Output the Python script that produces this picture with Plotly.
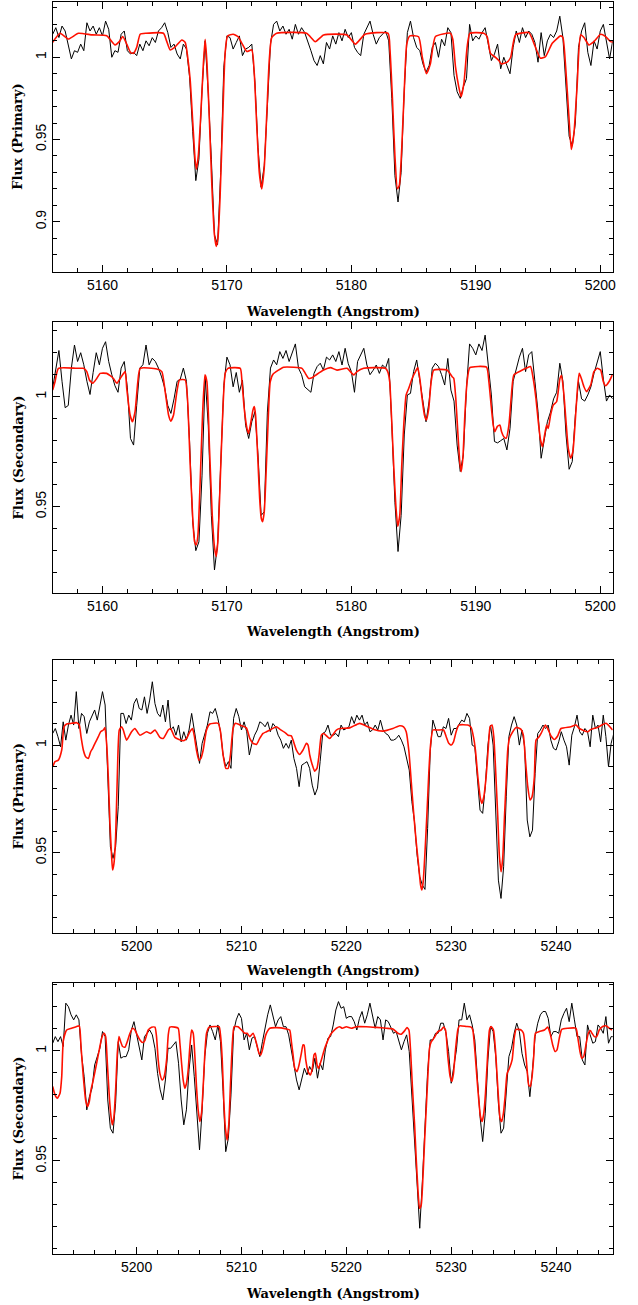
import numpy as np
import plotly.graph_objects as go

# ---------------- data ----------------
STEP = 0.25
P12_START = 5156.0
P34_START = 5192.0

P1_OBS = [
1.014,1.018,1.012,1.019,1.016,1.008,0.999,1.004,1.003,1.008,1.004,1.021,1.016,1.019,1.014,1.018,
1.013,1.022,1.017,1.000,1.004,1.003,1.014,1.016,1.004,1.002,1.003,1.001,1.008,1.004,1.010,1.007,
1.012,1.009,1.016,1.018,1.021,1.015,1.006,1.008,1.002,0.999,1.008,1.005,0.988,0.955,0.925,0.938,
0.980,1.010,0.978,0.938,0.892,0.886,0.930,0.994,1.013,1.012,1.005,1.009,1.013,1.001,1.005,1.006,
1.008,0.985,0.945,0.921,0.934,0.970,1.008,1.020,1.022,1.016,1.019,1.014,1.017,1.011,1.020,1.014,
1.018,1.015,1.010,1.004,0.998,0.995,1.001,0.996,1.009,1.005,1.013,1.008,1.015,1.010,1.017,1.012,
1.015,1.006,1.003,1.001,1.014,1.018,1.022,1.014,1.008,1.012,1.014,1.016,1.010,0.975,0.928,0.912,
0.930,0.980,1.015,1.022,1.012,1.006,1.004,0.996,0.991,0.995,1.006,1.009,1.000,1.011,1.007,1.018,
1.015,0.989,0.979,0.975,0.982,0.987,1.020,1.010,1.013,1.011,1.015,1.018,1.008,0.998,1.002,1.008,
0.993,1.000,0.995,0.990,1.006,1.016,1.009,1.018,1.012,1.016,1.014,1.009,0.997,1.015,1.001,1.010,
1.014,1.012,1.016,1.025,1.012,0.978,0.952,0.946,0.960,1.006,1.016,1.021,1.003,0.995,1.010,1.005,
1.016,1.020,1.010,0.999,1.010]

P2_OBS = [
1.004,1.013,1.021,1.007,0.995,0.996,1.013,1.0235,1.016,1.020,1.0145,1.007,1.001,1.011,1.020,1.0145,
1.022,1.025,1.016,1.010,1.005,1.002,1.013,1.016,1.004,0.981,0.978,0.996,1.013,1.0145,1.0235,1.0145,
1.0175,1.016,1.013,1.009,1.004,0.996,0.9924,0.999,1.007,1.008,1.013,1.007,0.9795,0.943,0.930,0.934,
0.964,1.009,0.987,0.946,0.9212,0.933,0.9735,1.005,1.018,1.0145,1.0045,1.011,1.002,1.0075,0.987,0.981,
0.9886,0.9932,0.9735,0.946,0.9477,0.993,1.013,1.0167,1.0145,1.0205,1.0174,1.021,1.016,1.0205,1.024,1.013,
1.010,1.0045,1.003,1.002,1.0106,1.0137,1.0152,1.0121,1.018,1.0167,1.019,1.016,1.0205,1.0144,1.022,1.015,
1.0114,1.002,1.016,1.019,1.022,1.0144,1.010,1.012,1.0144,1.0106,1.0144,1.013,1.0174,0.987,0.952,0.9296,
0.946,0.9826,1.0008,1.0015,1.0114,1.0167,1.007,0.996,0.9886,0.998,1.013,1.0152,1.0137,1.010,1.0053,1.0174,
1.003,0.998,0.978,0.966,0.9735,1.0038,1.024,1.022,1.019,1.024,1.021,1.028,1.013,1.0008,0.9796,0.979,
0.980,0.981,0.9758,0.9856,1.007,1.013,1.018,1.022,1.0114,1.019,1.0205,1.007,0.9932,0.972,0.9796,0.9886,
0.993,0.999,1.002,1.0152,1.007,0.9826,0.967,0.9705,0.9917,1.007,0.999,0.998,1.0008,1.0045,1.0106,1.016,
1.0205,1.008,0.998,1.0008,0.999]

P3_OBS = [
1.0054,1.0077,1.0039,0.9992,1.0108,1.0023,1.0093,1.0139,1.0093,1.0248,1.0077,1.0147,1.0132,1.0054,1.0108,1.0132,
1.0163,1.0116,1.0193,1.0248,1.0186,0.982,0.9528,0.9474,0.9528,0.9714,1.0147,1.0147,1.010,1.0139,1.0116,1.0193,
1.0217,1.017,1.0163,1.0224,1.0147,1.0209,1.0294,1.0193,1.0147,1.0132,1.0186,1.0108,1.0209,1.007,1.0085,1.0046,
1.0093,1.0015,1.0062,1.0023,1.007,1.0147,1.0062,0.9977,0.9915,1.0008,1.0046,1.0093,1.0155,1.0147,1.017,1.0124,
1.0062,0.9954,0.990,0.9923,0.9892,1.0124,1.017,1.0132,1.007,1.0108,1.0062,0.9954,1.0008,1.0046,1.007,1.0108,
1.010,1.0085,1.0108,1.0062,1.010,1.0085,1.0046,1.0023,0.9985,1.0008,0.9985,1.0023,0.9938,0.9892,0.9807,0.9907,
0.9915,0.9923,0.9892,0.9814,0.9768,0.980,0.9923,1.0054,1.0062,1.0093,1.0046,1.0046,1.0054,1.0039,1.0093,1.007,
1.0077,1.0085,1.0132,1.010,1.0139,1.0116,1.0139,1.0093,1.0108,1.0062,1.007,1.0093,1.007,1.0116,1.007,1.0054,
1.0046,1.0023,1.0023,1.003,1.0046,1.0023,0.9992,0.9938,0.9884,0.9737,0.9644,0.9489,0.9389,0.9350,0.9330,0.9613,
0.9969,1.0116,1.0077,1.0039,1.0039,1.0085,1.0077,1.0124,1.0046,1.0077,1.0077,1.010,1.0116,1.0108,1.0147,1.0124,
1.0,0.9992,0.9837,0.9698,0.9683,0.9806,1.0,1.0093,1.0,0.9714,0.9373,0.9288,0.9435,0.976,1.0039,1.0093,
1.0132,1.0093,1.0,1.007,0.9992,0.9652,0.9574,0.9605,0.9868,1.0054,1.007,1.0093,1.0077,1.0093,1.0023,0.9985,
0.9977,1.0015,1.0062,1.0023,0.9992,0.9907,1.0046,1.0085,1.0139,1.0062,1.0046,1.0077,1.0062,0.9992,1.0139,1.0077,
1.0093,1.0015,1.0139,1.0039,0.990,1.0008,1.0054]

P4_OBS = [
1.0035,1.0065,1.0042,1.0065,1.002,1.0217,1.0201,1.0164,1.0141,1.0164,1.0141,0.9982,0.9883,0.9732,0.9792,0.983,
0.9936,0.9974,1.0012,1.0088,1.0065,0.9777,0.9648,0.9626,0.9762,1.0042,0.9967,0.9974,0.9974,1.0005,1.0095,1.0133,
1.0073,1.0012,0.9959,1.0065,1.008,1.0095,1.0073,1.0012,0.9898,0.9823,0.9777,0.9868,1.0012,1.0012,1.0027,1.0042,
0.9944,0.9777,0.9664,0.9732,0.9914,1.0027,0.9883,0.9717,0.955,0.9732,0.9974,1.008,1.0118,1.0088,1.005,1.0118,
1.0042,0.9815,0.9542,0.9603,0.980,1.0088,1.0141,1.0171,1.0148,1.005,1.008,1.0005,1.0058,1.0065,1.002,0.9974,
1.0042,1.011,1.0164,1.0209,1.0156,1.011,1.0141,1.0156,1.011,1.011,1.0073,1.0005,0.9936,0.9868,0.9823,0.9876,
0.9921,0.9891,0.9929,0.9906,0.9967,0.9876,0.9944,0.9914,1.0005,1.0058,1.0065,1.0118,1.0186,1.0224,1.0194,1.0201,
1.0148,1.0156,1.0156,1.0133,1.0095,1.0148,1.0179,1.0126,1.0164,1.0217,1.0156,1.0103,1.0156,1.0141,1.005,1.0141,
1.0133,1.0103,1.008,1.0088,1.005,1.0005,1.0042,1.0073,0.9997,0.9785,0.9573,0.9346,0.9194,0.9406,0.9664,0.9906,
1.005,1.005,1.008,1.008,1.0126,1.0126,1.008,0.9997,0.9853,0.9936,1.0005,1.0141,1.0141,1.0217,1.0141,1.0164,
1.0118,1.005,0.9868,0.9702,0.9588,0.9717,0.9959,1.0111,1.0088,0.9974,0.9762,0.9626,0.9649,0.9808,0.9974,1.0012,
1.008,1.0126,1.0088,0.9989,0.9936,0.9906,0.9792,0.9914,1.0065,1.0126,1.0164,1.0179,1.0179,1.0148,1.0065,1.0088,
1.0088,1.008,1.0141,1.0171,1.0194,1.0133,1.0217,1.0141,1.0065,1.0065,0.9959,0.9936,1.0118,1.0073,1.0035,1.0042,
1.0118,1.0103,1.008,1.0156,1.0035,1.0065,1.0065]

P1_MOD_WAVE = [5156.00,5156.59,5157.26,5158.06,5159.20,5160.34,5160.70,5161.01,5161.35,5161.63,5161.95,5162.25,
5162.49,5162.75,5163.03,5163.50,5164.90,5165.15,5165.44,5165.80,5166.38,5166.65,5166.85,5167.05,5167.26,5167.45,
5167.55,5167.70,5167.90,5168.10,5168.25,5168.40,5168.60,5168.80,5169.00,5169.14,5169.28,5169.45,5169.65,5169.85,
5170.05,5170.50,5170.90,5171.20,5171.60,5172.00,5172.20,5172.40,5172.60,5172.80,5173.00,5173.20,5173.40,5173.60,
5174.00,5176.40,5177.10,5177.77,5179.65,5180.32,5181.10,5182.95,5183.10,5183.30,5183.50,5183.70,5183.85,5184.05,
5184.25,5184.45,5184.70,5185.40,5185.70,5186.03,5186.35,5186.76,5187.96,5188.15,5188.37,5188.63,5188.82,5189.04,
5189.30,5189.52,5190.64,5190.91,5191.18,5191.58,5191.85,5192.04,5192.52,5192.80,5193.19,5194.27,5194.67,5195.20,
5195.60,5196.14,5196.81,5197.00,5197.22,5197.48,5197.67,5197.89,5198.15,5198.42,5198.69,5199.09,5199.49,5200.03,
5200.43,5200.83,5201.05]
P1_MOD_FLUX = [1.0091,1.0146,1.0111,1.0146,1.0136,1.0131,1.0100,1.0075,1.0095,1.0126,1.0080,1.0030,
1.0024,1.0060,1.0140,1.0146,1.0146,1.0100,1.0045,1.0060,1.0105,1.0090,1.0000,0.9860,0.9600,0.9370,
0.9320,0.9400,0.9650,0.9950,1.0110,0.9960,0.9600,0.9200,0.8920,0.8850,0.8900,0.9150,0.9600,1.0020,
1.0130,1.0140,1.0125,1.0085,1.0035,1.0045,0.9900,0.9580,0.9300,0.9200,0.9330,0.9650,0.9980,1.0120,
1.0146,1.0146,1.0095,1.0136,1.0136,1.0080,1.0140,1.0146,1.0050,0.9750,0.9400,0.9200,0.9220,0.9450,
0.9800,1.0080,1.0130,1.0125,1.0000,0.9900,0.9960,1.0126,1.0146,1.0110,0.9940,0.9820,0.9760,0.9840,
1.0060,1.0146,1.0146,1.0126,1.0024,1.0000,0.9980,0.9960,0.9970,1.0000,1.0136,1.0150,1.0085,0.9994,
1.0004,1.0085,1.0130,1.0120,0.9940,0.9640,0.9440,0.9540,0.9840,1.0136,1.0120,1.0075,1.0095,1.0140,
1.0126,1.0095,1.0091]

P2_MOD_WAVE = [5156.00,5156.19,5156.46,5157.93,5158.47,5158.74,5158.95,5159.22,5159.54,5159.81,5160.34,5160.88,
5161.15,5161.42,5161.82,5161.95,5162.22,5162.41,5162.62,5162.84,5163.03,5164.37,5164.77,5165.04,5165.31,5165.49,
5165.71,5165.98,5166.19,5166.65,5166.83,5167.05,5167.24,5167.40,5167.53,5167.67,5167.85,5168.04,5168.23,5168.39,
5168.60,5168.82,5169.01,5169.14,5169.27,5169.46,5169.68,5169.86,5170.08,5171.07,5171.21,5171.39,5171.61,5171.74,
5171.93,5172.09,5172.20,5172.30,5172.47,5172.63,5172.76,5172.87,5173.00,5173.14,5173.30,5173.48,5173.70,5174.56,
5175.36,5176.03,5176.30,5176.57,5176.84,5177.24,5177.77,5178.31,5178.85,5179.65,5180.19,5180.45,5180.99,5182.06,
5182.73,5182.92,5183.08,5183.22,5183.40,5183.57,5183.73,5183.89,5184.05,5184.21,5184.40,5184.61,5184.88,5185.15,
5185.33,5185.50,5185.68,5185.87,5186.03,5186.22,5186.41,5186.62,5187.69,5188.10,5188.23,5188.39,5188.55,5188.71,
5188.82,5188.96,5189.12,5189.30,5189.52,5190.86,5191.05,5191.23,5191.40,5191.53,5191.72,5191.93,5192.07,5192.25,
5192.44,5192.66,5192.84,5193.06,5193.59,5194.13,5194.40,5194.61,5194.83,5195.02,5195.20,5195.36,5195.53,5195.69,
5195.82,5196.01,5196.22,5196.49,5196.76,5196.89,5197.08,5197.27,5197.43,5197.62,5197.80,5197.97,5198.15,5198.31,
5198.48,5198.69,5198.90,5199.23,5199.49,5199.76,5200.03,5200.25,5200.43,5200.70,5200.97]
P2_MOD_FLUX = [1.0030,1.0068,1.0129,1.0129,1.0129,1.0114,1.0076,1.0061,1.0083,1.0106,1.0106,1.0083,
1.0061,1.0083,1.0114,1.0038,0.9917,0.9886,0.9932,1.0068,1.0129,1.0126,1.0114,1.0023,0.9917,0.9889,
0.9917,1.0023,1.0076,1.0076,0.9993,0.9690,0.9462,0.9341,0.9326,0.9371,0.9614,0.9917,1.0099,1.0068,
0.9765,0.9462,0.9311,0.9273,0.9341,0.9614,0.9947,1.0106,1.0129,1.0129,1.0068,0.9947,0.9856,0.9833,
0.9886,0.9939,0.9955,0.9917,0.9735,0.9538,0.9447,0.9432,0.9477,0.9644,0.9871,1.0068,1.0102,1.0134,
1.0134,1.0129,1.0106,1.0083,1.0086,1.0102,1.0121,1.0132,1.0121,1.0129,1.0099,1.0114,1.0129,1.0132,
1.0129,1.0114,1.0068,0.9917,0.9690,0.9508,0.9410,0.9462,0.9690,0.9871,1.0008,1.0038,1.0083,1.0114,
1.0132,1.0083,0.9993,0.9917,0.9894,0.9947,1.0068,1.0121,1.0121,1.0091,1.0083,0.9993,0.9841,0.9705,
0.9659,0.9720,0.9917,1.0068,1.0132,1.0134,1.0068,0.9962,0.9871,0.9841,0.9864,0.9871,0.9841,0.9818,
0.9811,0.9871,0.9993,1.0099,1.0117,1.0132,1.0137,1.0083,0.9993,0.9886,0.9803,0.9773,0.9826,0.9871,
0.9856,0.9917,0.9962,0.9977,1.0083,1.0096,1.0008,0.9871,0.9765,0.9720,0.9750,0.9871,1.0023,1.0106,
1.0083,1.0045,1.0023,1.0053,1.0114,1.0129,1.0121,1.0068,1.0050,1.0068,1.0099]

P3_MOD_WAVE = [5192.00,5192.22,5192.54,5192.86,5193.08,5193.33,5193.81,5194.29,5194.54,5194.70,5194.92,5195.14,
5195.40,5195.62,5195.81,5196.03,5196.35,5196.57,5196.83,5196.98,5197.14,5197.30,5197.46,5197.62,5197.71,5197.84,
5198.00,5198.16,5198.35,5198.57,5198.73,5199.05,5199.52,5199.84,5200.32,5200.95,5201.33,5201.75,5202.22,5202.54,
5203.02,5203.24,5203.65,5204.44,5204.76,5205.08,5205.33,5205.49,5205.71,5205.94,5206.13,5206.35,5206.67,5206.98,
5207.78,5208.00,5208.25,5208.51,5208.73,5208.95,5209.20,5209.43,5210.00,5210.47,5210.79,5211.11,5211.43,5211.74,
5212.06,5212.38,5212.86,5213.33,5213.65,5214.13,5214.44,5214.76,5214.92,5215.24,5215.55,5215.87,5216.19,5216.35,
5216.51,5216.76,5216.98,5217.20,5217.40,5217.62,5217.84,5218.41,5219.05,5219.36,5220.32,5221.27,5222.06,5222.54,
5223.49,5224.44,5225.08,5225.46,5225.71,5225.97,5226.19,5226.41,5226.66,5226.89,5227.08,5227.20,5227.33,5227.52,
5227.71,5227.87,5228.03,5228.25,5228.73,5229.27,5229.52,5229.77,5230.00,5230.22,5230.47,5230.73,5231.58,5231.90,
5232.12,5232.31,5232.54,5232.76,5232.92,5233.11,5233.33,5233.52,5233.71,5233.90,5234.06,5234.22,5234.44,5234.60,
5234.76,5234.92,5235.08,5235.23,5235.39,5235.55,5235.87,5236.19,5236.66,5236.88,5237.08,5237.30,5237.52,5237.71,
5237.93,5238.09,5238.35,5238.57,5238.98,5239.20,5239.52,5239.84,5240.15,5240.47,5241.42,5241.90,5242.22,5243.01,
5243.33,5243.96,5244.76,5245.39]
P3_MOD_FLUX = [0.9899,0.9923,0.9930,0.9977,1.0085,1.0098,1.0101,1.0104,1.0093,1.0039,0.9977,0.9946,
0.9938,0.9969,0.9985,1.0008,1.0039,1.0062,1.0070,1.0082,1.0008,0.9853,0.9636,0.9481,0.9420,0.9450,
0.9574,0.9853,1.0070,1.0085,1.0070,1.0023,1.0062,1.0077,1.0046,1.0062,1.0054,1.0070,1.0036,1.0031,
1.0070,1.0077,1.0036,1.0020,1.0031,1.0062,1.0077,1.0046,0.9977,0.9930,0.9938,0.9977,1.0070,1.0098,
1.0101,1.0062,0.9954,0.9892,0.9892,0.9954,1.0077,1.0101,1.0090,1.0080,1.0031,1.0008,1.0003,1.0031,
1.0054,1.0062,1.0074,1.0085,1.0074,1.0059,1.0046,1.0043,1.0023,0.9977,0.9957,0.9977,1.0008,1.0000,
0.9954,0.9907,0.9879,0.9892,0.9954,1.0046,1.0054,1.0031,1.0070,1.0077,1.0080,1.0101,1.0085,1.0074,
1.0065,1.0077,1.0090,1.0085,1.0062,0.9969,0.9830,0.9690,0.9551,0.9443,0.9350,0.9327,0.9365,0.9520,
0.9706,0.9876,1.0000,1.0070,1.0070,1.0070,1.0039,1.0008,1.0000,1.0015,1.0062,1.0093,1.0093,1.0082,
1.0039,0.9977,0.9853,0.9760,0.9729,0.9760,0.9853,0.9977,1.0085,1.0093,1.0039,0.9899,0.9667,0.9481,
0.9412,0.9481,0.9667,0.9822,0.9977,1.0031,1.0062,1.0082,1.0073,1.0046,0.9930,0.9807,0.9745,0.9760,
0.9853,1.0023,1.0036,1.0054,1.0093,1.0077,1.0042,1.0026,1.0042,1.0077,1.0085,1.0093,1.0077,1.0062,
1.0073,1.0082,1.0101,1.0070]

P4_MOD_WAVE = [5192.00,5192.22,5192.44,5192.70,5192.86,5193.02,5193.33,5193.81,5194.29,5194.54,5194.70,5194.92,
5195.14,5195.33,5195.49,5195.65,5195.87,5196.19,5196.44,5196.67,5196.89,5197.05,5197.21,5197.40,5197.56,5197.68,
5197.84,5198.00,5198.16,5198.32,5198.48,5198.67,5198.89,5199.11,5199.37,5199.62,5199.84,5200.06,5200.32,5200.57,
5200.79,5201.11,5201.43,5201.75,5201.90,5202.06,5202.22,5202.44,5202.63,5202.86,5203.02,5203.17,5203.65,5203.97,
5204.13,5204.29,5204.44,5204.60,5204.76,5204.92,5205.08,5205.24,5205.40,5205.56,5205.71,5205.87,5206.03,5206.19,
5206.35,5206.51,5206.67,5206.92,5207.46,5207.87,5208.00,5208.16,5208.32,5208.47,5208.63,5208.79,5208.95,5209.14,
5209.30,5209.68,5210.00,5210.32,5210.54,5210.79,5211.11,5211.43,5211.68,5211.84,5212.00,5212.32,5212.70,5213.33,
5214.28,5214.60,5214.76,5214.92,5215.08,5215.30,5215.49,5215.71,5215.87,5215.97,5216.13,5216.35,5216.57,5216.76,
5216.92,5217.05,5217.21,5217.36,5217.52,5217.71,5217.94,5218.19,5218.47,5218.73,5219.05,5219.36,5219.62,5220.00,
5220.47,5220.95,5221.90,5222.86,5223.81,5224.44,5224.92,5225.24,5225.55,5225.78,5225.97,5226.13,5226.29,5226.51,
5226.66,5226.82,5226.98,5227.14,5227.30,5227.46,5227.62,5227.78,5227.93,5228.10,5228.35,5228.73,5229.04,5229.27,
5229.46,5229.68,5229.90,5230.06,5230.22,5230.41,5230.63,5230.79,5231.43,5231.90,5232.06,5232.28,5232.47,5232.63,
5232.79,5232.95,5233.11,5233.27,5233.43,5233.65,5233.81,5234.03,5234.22,5234.38,5234.54,5234.66,5234.82,5234.98,
5235.14,5235.33,5235.55,5235.81,5236.03,5236.19,5236.66,5236.89,5237.08,5237.24,5237.39,5237.55,5237.71,5237.87,
5238.03,5238.41,5238.89,5239.20,5239.43,5239.68,5239.90,5240.09,5240.31,5240.54,5241.11,5241.90,5242.06,5242.28,
5242.44,5242.63,5242.85,5243.07,5243.27,5243.43,5243.65,5243.87,5244.12,5244.44,5244.76,5245.08,5245.33]
P4_MOD_FLUX = [0.9838,0.9800,0.9785,0.9808,0.9883,1.0050,1.0095,1.0103,1.0111,1.0114,1.0020,0.9883,
0.9777,0.9747,0.9770,0.9823,0.9868,0.9944,1.0005,1.0058,1.0080,1.0065,0.9944,0.9792,0.9702,0.9664,
0.9702,0.9823,0.9989,1.0065,1.0042,1.0020,1.0017,1.0042,1.0080,1.0103,1.0095,1.0073,1.0050,1.0038,
1.0047,1.0095,1.0108,1.0108,1.0065,0.9959,0.9898,0.9868,0.9883,0.9959,1.0073,1.0108,1.0108,1.0103,
1.0035,0.9944,0.9868,0.9830,0.9853,0.9914,1.0020,1.0095,1.0080,0.9974,0.9838,0.9732,0.9679,0.9717,
0.9838,0.9989,1.0080,1.0108,1.0111,1.0110,1.0073,0.9967,0.9770,0.9648,0.9595,0.9664,0.9845,1.0042,
1.0110,1.0110,1.0095,1.0080,1.0080,1.0065,1.0080,1.0035,0.9989,0.9982,1.0005,1.0073,1.0103,1.0106,
1.0100,1.0095,1.0042,0.9982,0.9921,0.9906,0.9936,0.9989,1.0027,1.0027,0.9959,0.9906,0.9891,0.9921,
0.9982,0.9989,0.9936,0.9921,0.9944,0.9974,1.0012,1.0042,1.0073,1.0088,1.0103,1.0110,1.0103,1.0110,
1.0103,1.0110,1.0110,1.0107,1.0103,1.0100,1.0080,1.0076,1.0091,1.0106,1.0095,0.9997,0.9845,0.9664,
0.9512,0.9376,0.9285,0.9300,0.9421,0.9588,0.9739,0.9891,1.0012,1.0042,1.0058,1.0088,1.0095,1.0108,
1.0095,0.9974,0.9883,0.9861,0.9898,1.0005,1.0095,1.0114,1.0111,1.0108,1.0095,0.9989,0.9868,0.9777,
0.9702,0.9679,0.9717,0.9808,0.9944,1.0095,1.0111,1.0095,1.0005,0.9883,0.9762,0.9694,0.9679,0.9717,
0.9792,0.9898,0.9921,0.9959,1.0065,1.0098,1.0095,1.0080,1.0005,0.9914,0.9845,0.9838,0.9883,0.9974,
1.0080,1.0088,1.0095,1.0108,1.0080,1.0027,0.9997,1.0005,1.0058,1.0098,1.0103,1.0103,1.0065,0.9997,
0.9967,0.9974,1.0027,1.0080,1.0092,1.0080,1.0065,1.0065,1.0095,1.0111,1.0114,1.0103,1.0095]

X_RANGES = [[5156.0, 5201.0], [5156.0, 5201.0], [5192.0, 5245.4], [5192.0, 5245.4]]
Y_RANGES = [[0.8696, 1.0338], [0.9106, 1.0341], [0.9129, 1.0395], [0.9077, 1.0310]]
Y_TITLES = ["Flux (Primary)", "Flux (Secondary)", "Flux (Primary)", "Flux (Secondary)"]
X_TITLE = "Wavelength (Angstrom)"

# ---------------- layout geometry (pixels) ----------------
W, H = 638, 1305
PLOT_LEFT, PLOT_RIGHT = 52.7, 612.7
PANELS_PX = [(1.7, 271.7), (321.7, 593.3), (660.0, 932.7), (982.7, 1254.0)]
XTITLE_Y = [311, 632, 970, 1293]
YTITLE_X = 18

obs = [(P12_START, P1_OBS), (P12_START, P2_OBS), (P34_START, P3_OBS), (P34_START, P4_OBS)]
mod = [(P1_MOD_WAVE, P1_MOD_FLUX), (P2_MOD_WAVE, P2_MOD_FLUX),
       (P3_MOD_WAVE, P3_MOD_FLUX), (P4_MOD_WAVE, P4_MOD_FLUX)]

fig = go.Figure()
annotations = []
tickfont = dict(family="Liberation Sans, Arial, sans-serif", size=14, color="black")
titlefont = dict(family="DejaVu Serif, serif", size=13, color="black", weight="bold")

for i in range(4):
    n = i + 1
    xa = "x" if n == 1 else f"x{n}"
    ya = "y" if n == 1 else f"y{n}"
    start, vals = obs[i]
    wave = start + STEP * np.arange(len(vals))
    fig.add_trace(go.Scatter(x=wave, y=vals, mode="lines", xaxis=xa, yaxis=ya,
                             line=dict(color="black", width=1), showlegend=False,
                             hoverinfo="skip"))
    mw, mf = mod[i]
    fig.add_trace(go.Scatter(x=mw, y=mf, mode="lines", xaxis=xa, yaxis=ya,
                             line=dict(color="#ff1000", width=1.6, shape="spline", smoothing=0.5),
                             showlegend=False, hoverinfo="skip"))
    top, bot = PANELS_PX[i]
    ydom = [1 - bot / H, 1 - top / H]
    xdom = [PLOT_LEFT / W, PLOT_RIGHT / W]
    common = dict(showline=True, linecolor="black", linewidth=1, mirror="ticks",
                  ticks="inside", ticklen=7, tickwidth=1, tickcolor="black",
                  showgrid=False, zeroline=False, tickfont=tickfont, automargin=False)
    fig.layout[f"xaxis{'' if n == 1 else n}"] = dict(
        domain=xdom, anchor=ya, range=X_RANGES[i], dtick=10, tick0=5150,
        minor=dict(dtick=2, ticks="inside", ticklen=4, tickcolor="black", showgrid=False),
        **common)
    fig.layout[f"yaxis{'' if n == 1 else n}"] = dict(
        domain=ydom, anchor=xa, range=Y_RANGES[i], dtick=0.05, tick0=0,
        tickangle=-90,
        minor=dict(dtick=0.01, tick0=0, ticks="inside", ticklen=4, tickcolor="black", showgrid=False),
        **common)
    annotations.append(dict(text=X_TITLE, xref="paper", yref="paper",
                            x=(PLOT_LEFT + PLOT_RIGHT) / 2 / W, y=1 - XTITLE_Y[i] / H,
                            xanchor="center", yanchor="middle", showarrow=False, font=titlefont))
    annotations.append(dict(text=Y_TITLES[i], xref="paper", yref="paper",
                            x=YTITLE_X / W, y=1 - (top + bot) / 2 / H, textangle=-90,
                            xanchor="center", yanchor="middle", showarrow=False, font=titlefont))

fig.update_layout(width=W, height=H,
                  margin=dict(l=0, r=0, t=0, b=0, pad=0, autoexpand=False),
                  paper_bgcolor="white", plot_bgcolor="white",
                  annotations=annotations)
fig.write_html("out.html", config={"displayModeBar": False, "staticPlot": True},
               post_script="document.body.style.margin='0px';document.body.style.overflow='hidden';")
